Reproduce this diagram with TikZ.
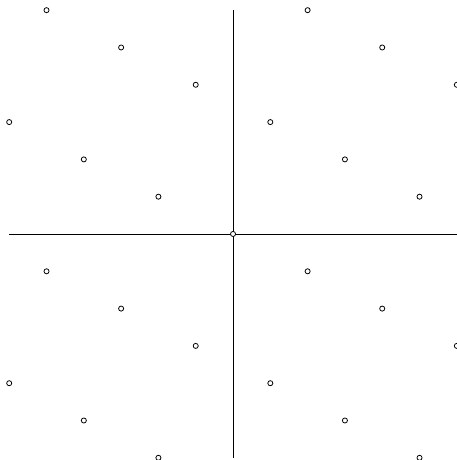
\documentclass[tikz,border=0pt]{standalone}
\usepackage{tikz}

\begin{document}
\begin{tikzpicture}[line width=0.6pt]
    % 描画範囲
    \useasboundingbox (-6.247, -6.059) rectangle (5.979, 6.273);

    % 座標軸
    \draw (-6, 0) -- (6, 0);
    \draw (0, -6) -- (0, 6);

    % 格子点 (x + 2y = 0 mod 7)
    \foreach \x in {-6,...,6} {
        \foreach \y in {-6,...,6} {
            \pgfmathtruncatemacro{\r}{mod(\x + 2*\y + 84, 7)}
            \ifnum\r=0
                \draw[fill=white] (\x, \y) circle (0.068);
            \fi
        }
    }
\end{tikzpicture}
\end{document}
